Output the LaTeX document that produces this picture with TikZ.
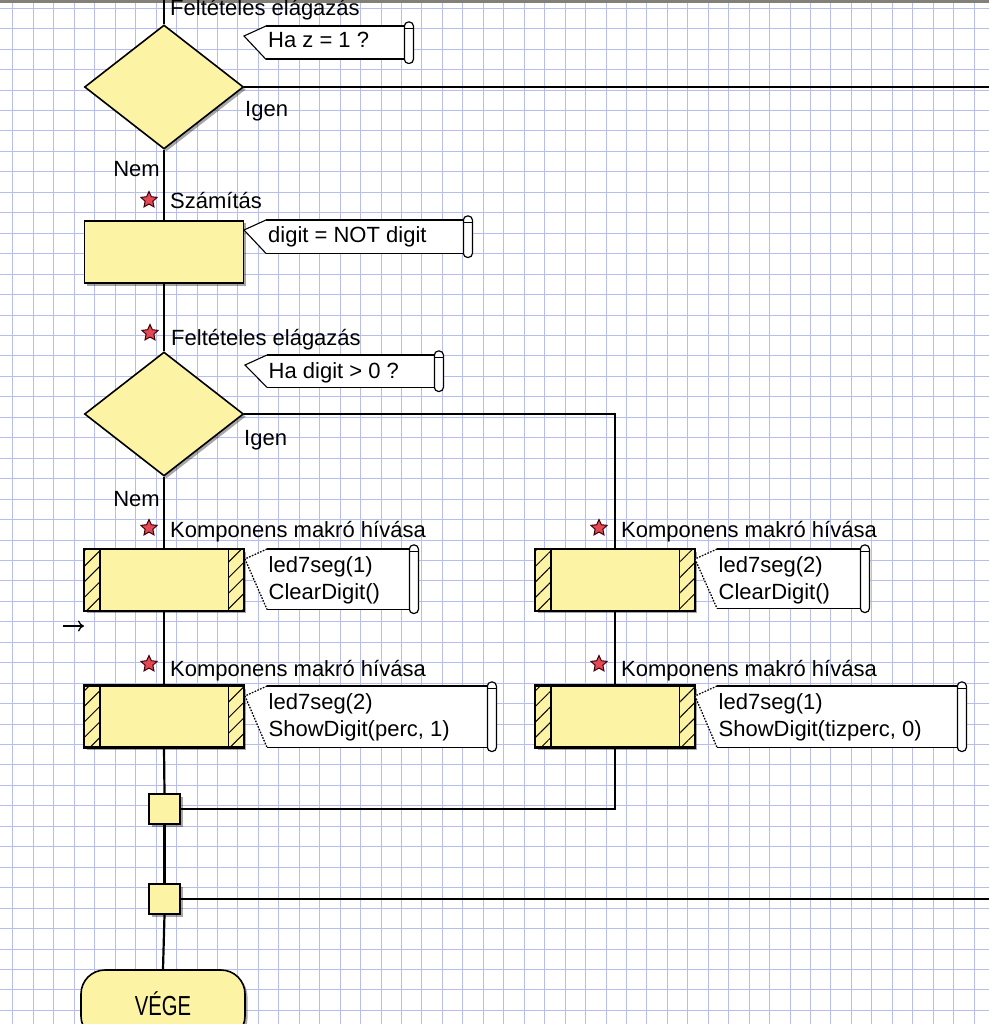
\documentclass[tikz,border=0pt]{standalone}
\usepackage{fontspec}
\setmainfont{Liberation Sans}
\usetikzlibrary{shapes.geometric,calc,patterns.meta,shadows,arrows.meta}
\definecolor{boxyellow}{RGB}{252,243,165}
\definecolor{gridblue}{RGB}{184,189,240}
\definecolor{starred}{RGB}{226,72,88}
\definecolor{topbar}{RGB}{130,128,120}
\tikzset{
  flowline/.style={line width=2.2pt, black},
  shapebase/.style={draw=black, line width=1.6pt, fill=boxyellow, inner sep=0pt,
     drop shadow={shadow xshift=2.5pt, shadow yshift=-2.5pt, fill=black, opacity=0.35}},
  decision/.style={shapebase, diamond, minimum width=159pt, minimum height=124pt},
  calcbox/.style={shapebase, rectangle, minimum width=159pt, minimum height=62pt},
  compbox/.style={shapebase, rectangle, minimum width=159pt, minimum height=61pt},
  joinbox/.style={shapebase, rectangle, minimum width=31pt, minimum height=30pt},
  terminal/.style={shapebase, rectangle, rounded corners=24pt, minimum width=164pt,
     inner ysep=0pt, text height=45pt, text depth=25pt},
  lbl/.style={anchor=base west, inner sep=0pt},
  lble/.style={anchor=base east, inner sep=0pt},
  marker/.style={star, star points=5, star point ratio=2.1, minimum size=17pt, inner sep=0pt,
     fill=starred, draw=black!75!red, line width=1pt},
  calbody/.style={rectangle, fill=white, draw=none, inner sep=0pt},
  caledge/.style={line width=1.8pt},
  ptrsolid/.style={line width=1.1pt},
  ptrdot/.style={line width=1.3pt, dash pattern=on 1.6pt off 1.4pt},
  scrollpart/.style={draw, fill=white, line width=1.2pt, rounded corners=4pt},
  gridline/.style={gridblue, line width=1pt},
  hatch/.style={pattern={Lines[angle=45,distance=11pt,line width=1pt]}, pattern color=black}
}
% callout: name, left, top, right, bottom, pointer style
\newcommand\mycall[6]{%
  \node[calbody, minimum width=#4-#2, minimum height=#5-#3, anchor=north west] (#1) at (#2,#3) {};
  \coordinate (#1-tip) at ($(#1.north west)+(-22,10)$);
  \fill[white] (#1.north west) -- (#1-tip) -- (#1.south west) -- cycle;
  \draw[caledge] (#1.north east) -- (#1.north west);
  \draw[#6] (#1.north west) -- (#1-tip) -- (#1.south west);
  \draw[caledge] (#1.south west) -- (#1.south east);
  \draw[scrollpart] ($(#1.north east)+(-1,-4)$) rectangle ($(#1.south east)+(8,4)$);
  \draw[line width=0.8pt] ($(#1.north east)+(-1,2)$) -- ($(#1.north east)+(8,2)$);
}
\newcommand\mystrips[1]{%
  \fill[hatch] (#1.north west) rectangle ($(#1.south west)+(16,0)$);
  \fill[hatch] ($(#1.north east)+(-16,0)$) rectangle (#1.south east);
  \draw[line width=1.6pt] ($(#1.north west)+(16,0)$) -- ($(#1.south west)+(16,0)$);
  \draw[line width=1.6pt] ($(#1.north east)+(-16,0)$) -- ($(#1.south east)+(-16,0)$);
  \draw[line width=1.6pt] (#1.north west) rectangle (#1.south east);
}
\begin{document}
\begin{tikzpicture}[x=1pt,y=-1pt, font=\fontsize{22}{24}\selectfont]
\useasboundingbox (0,0) rectangle (989,1024);
\clip (0,0) rectangle (989,1024);
\fill[white] (0,0) rectangle (989,1024);
% grid
\foreach \k in {0,...,47} \draw[gridline] ({12.95+20.45*\k},0) -- ({12.95+20.45*\k},1024);
\foreach \k in {0,...,49} \draw[gridline] (0,{8.3+20.45*\k}) -- (989,{8.3+20.45*\k});
\fill[topbar] (0,0) rectangle (989,3);

% main nodes
\node[decision] (d1) at (164,87) {};
\node[calcbox] (b1) at (164,252) {};
\node[decision] (d2) at (164,414) {};
\node[compbox] (c1) at (164,580) {};
\node[compbox] (c2) at (164,716.5) {};
\node[compbox] (c3) at (615,580) {};
\node[compbox] (c4) at (615,716.5) {};
\node[joinbox] (j1) at (164.5,809) {};
\node[joinbox] (j2) at (164.5,899) {};
\node[terminal, anchor=base] (vege) at (163,1015) {\scalebox{0.92}[1.25]{VÉGE}};
\mystrips{c1}
\mystrips{c2}
\mystrips{c3}
\mystrips{c4}

% connectors
\coordinate (topin) at (164,0);
\coordinate (edgeR) at (989,0);
\draw[flowline] (topin) -- (d1.north);
\draw[flowline] (d1.east) -- (d1.east -| edgeR);
\draw[flowline] (d1.south) -- (b1.north);
\draw[flowline] (b1.south) -- (d2.north);
\draw[flowline] (d2.east) -| (c3.north);
\draw[flowline] (d2.south) -- (c1.north);
\draw[flowline] (c1.south) -- (c2.north);
\draw[flowline] (c2.south) -- (j1.north);
\draw[flowline] (j1.south) -- (j2.north);
\draw[flowline] (j2.south) -- (vege.north);
\draw[flowline] (c3.south) -- (c4.north);
\draw[flowline] (c4.south) |- (j1.east);
\draw[flowline] (j2.east) -- (j2.east -| edgeR);

% callouts
\mycall{ca}{266}{26}{405}{59}{ptrsolid}
\mycall{cb}{266}{220}{464}{253}{ptrsolid}
\mycall{cc}{267}{355}{435}{387}{ptrsolid}
\mycall{cd}{267}{549}{410}{609}{ptrdot}
\mycall{ce}{267}{686}{488}{747}{ptrdot}
\mycall{cf}{717}{549}{861}{608}{ptrdot}
\mycall{cg}{717}{686}{958}{747}{ptrdot}

\node[lbl] (ta) at (268,48) {Ha z = 1 ?};
\node[lbl] (tb) at (268,242.5) {digit = NOT digit};
\node[lbl] (tc) at (268.5,378) {Ha digit > 0 ?};
\node[lbl] (td1) at (268.5,572) {led7seg(1)};
\node[lbl] (td2) at (268.5,599) {ClearDigit()};
\node[lbl] (te1) at (268.5,709) {led7seg(2)};
\node[lbl] (te2) at (268.5,736) {ShowDigit(perc, 1)};
\node[lbl] (tf1) at (718.5,572) {led7seg(2)};
\node[lbl] (tf2) at (718.5,599) {ClearDigit()};
\node[lbl] (tg1) at (718.5,709) {led7seg(1)};
\node[lbl] (tg2) at (718.5,736) {ShowDigit(tizperc, 0)};

% step labels and markers
\node[lbl] (l0) at (170,16) {Feltételes elágazás};
\node[lbl] (y1) at (245,117) {Igen};
\node[lble] (n1) at (160,177) {Nem};
\node[marker] (s1) at (149,200) {};
\node[lbl] (l1) at (170,209) {Számítás};
\node[marker] (s2) at (150,333) {};
\node[lbl] (l2) at (171,345) {Feltételes elágazás};
\node[lbl] (y2) at (244,445) {Igen};
\node[lble] (n2) at (160,506) {Nem};
\node[marker] (s3) at (149,528) {};
\node[lbl] (l3) at (170,537) {Komponens makró hívása};
\node[marker] (s4) at (149,664) {};
\node[lbl] (l4) at (170,676) {Komponens makró hívása};
\node[marker] (s5) at (599,528) {};
\node[lbl] (l5) at (621,537) {Komponens makró hívása};
\node[marker] (s6) at (599,664) {};
\node[lbl] (l6) at (621,676) {Komponens makró hívása};

% small arrow at left margin
\coordinate (arA) at (63,626);
\coordinate (arB) at (84,626);
\draw[line width=1.3pt, -{To[length=6pt,width=11pt]}] (arA) -- (arB);
\end{tikzpicture}
\end{document}
